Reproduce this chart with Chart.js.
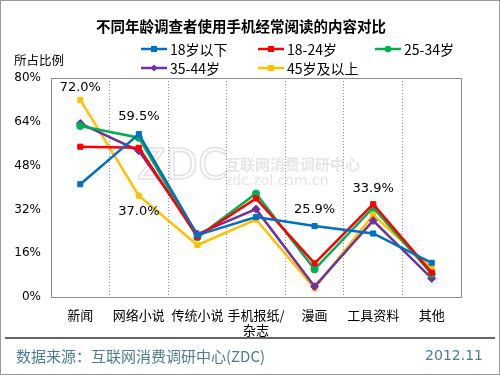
<!DOCTYPE html>
<html><head><meta charset="utf-8">
<script src="https://cdn.jsdelivr.net/npm/chart.js@4/dist/chart.umd.min.js"></script>
<style>
html,body{margin:0;padding:0;background:#fff;}
#wrap{position:relative;width:500px;height:375px;}
canvas{display:block;}
</style></head>
<body><div id="wrap"><canvas id="c" width="500" height="375"></canvas></div>
<script>
const chartTitle = '不同年龄调查者使用手机经常阅读的内容对比';
const yAxisTitle = '所占比例';
const sourceText = '数据来源：互联网消费调研中心(ZDC)';
const dateText = '2012.11';
const categories = ['新闻', '网络小说', '传统小说', ['手机报纸/', '杂志'], '漫画', '工具资料', '其他'];
const yTicks = [0, 16, 32, 48, 64, 80];
const seriesNames = ['18岁以下', '18-24岁', '25-34岁', '35-44岁', '45岁及以上'];
const under18 = [41.2, 59.5, 22.6, 29.2, 25.9, 23.2, 12.5];
const age18to24 = [54.9, 54.5, 22.0, 36.0, 12.3, 33.9, 8.9];
const age25to34 = [62.5, 58.2, 21.8, 37.8, 10.1, 32.6, 8.4];
const age35to44 = [63.4, 53.4, 23.0, 32.1, 3.8, 27.9, 6.8];
const age45plus = [72.0, 37.0, 19.0, 28.3, 3.2, 30.0, 10.5];
// data labels: [seriesIndex, categoryIndex, offset]
const labelPoints = [[4, 0, -12], [0, 1, -17], [4, 1, 16], [0, 4, -16], [1, 5, -16]];

const colors = ['#0070C0', '#FF0000', '#00B050', '#7030A0', '#FFC000'];
const pointStyles = ['rect', 'rect', 'circle', 'rectRot', 'rect'];
const allSeries = [under18, age18to24, age25to34, age35to44, age45plus];
const cjk = '"Noto Sans CJK SC", "Noto Sans", sans-serif';
const latin = '"DejaVu Sans", "Noto Sans CJK SC", sans-serif';

const datasets = allSeries.map((d, i) => ({
  label: seriesNames[i], data: d, borderColor: colors[i], backgroundColor: colors[i],
  borderWidth: 2.5, pointStyle: pointStyles[i], pointRadius: i === 3 ? 4 : 3.6,
  pointBorderWidth: 1, tension: 0
}));

const decor = {
  id: 'decor',
  beforeDraw(chart) {
    const ctx = chart.ctx;
    ctx.save();
    ctx.fillStyle = '#fff';
    ctx.fillRect(0, 0, 500, 375);
    // watermark
    ctx.strokeStyle = '#e2e2e2'; ctx.lineWidth = 1.5;
    ctx.font = '42px "DejaVu Sans", sans-serif';
    ctx.textBaseline = 'middle'; ctx.textAlign = 'left';
    ctx.strokeText('ZDC', 137, 168);
    ctx.fillStyle = '#e6e6e6';
    ctx.font = 'bold 15px ' + cjk;
    ctx.fillText('互联网消费调研中心', 225, 164);
    ctx.font = '14px "DejaVu Sans", sans-serif';
    ctx.fillText('zdc.zol.com.cn', 225, 181);
    ctx.restore();
  },
  afterDraw(chart) {
    const ctx = chart.ctx;
    const a = chart.chartArea;
    ctx.save();
    // plot border
    ctx.strokeStyle = '#8c8c8c'; ctx.lineWidth = 1;
    ctx.beginPath();
    ctx.moveTo(a.left + 0.5, a.top + 0.5); ctx.lineTo(a.right + 0.5, a.top + 0.5);
    ctx.lineTo(a.right + 0.5, a.bottom + 0.5); ctx.lineTo(a.left + 0.5, a.bottom + 0.5);
    ctx.closePath(); ctx.stroke();
    // outer border
    ctx.strokeStyle = '#9a9a9a';
    ctx.strokeRect(0.5, 0.5, 499, 374);
    // title
    ctx.fillStyle = '#000';
    ctx.font = 'bold 14.5px ' + cjk;
    ctx.textAlign = 'center'; ctx.textBaseline = 'middle';
    ctx.fillText(chartTitle, 241, 26);
    // y title
    ctx.font = '12.5px ' + cjk;
    ctx.textAlign = 'left';
    ctx.fillText(yAxisTitle, 14, 60);
    // legend
    const legPos = [[141, 49], [258, 49], [375, 49], [141, 68], [258, 68]];
    ctx.font = '14px ' + cjk;
    seriesNames.forEach((n, i) => {
      const [x, y] = legPos[i];
      ctx.strokeStyle = colors[i]; ctx.lineWidth = 2.5;
      ctx.beginPath(); ctx.moveTo(x, y); ctx.lineTo(x + 26, y); ctx.stroke();
      ctx.fillStyle = colors[i];
      const cx = x + 13;
      if (pointStyles[i] === 'circle') { ctx.beginPath(); ctx.arc(cx, y, 3.2, 0, Math.PI * 2); ctx.fill(); }
      else if (pointStyles[i] === 'rectRot') { ctx.beginPath(); ctx.moveTo(cx, y - 3.5); ctx.lineTo(cx + 3.5, y); ctx.lineTo(cx, y + 3.5); ctx.lineTo(cx - 3.5, y); ctx.closePath(); ctx.fill(); }
      else ctx.fillRect(cx - 3, y - 3, 6, 6);
      ctx.fillStyle = '#000';
      ctx.fillText(n, x + 29, y + 1);
    });
    // data labels
    ctx.font = '13px ' + latin;
    ctx.textAlign = 'center';
    labelPoints.forEach(([s, c, off]) => {
      const p = chart.getDatasetMeta(s).data[c];
      const v = allSeries[s][c].toFixed(1) + '%';
      ctx.fillStyle = '#000';
      ctx.fillText(v, p.x, p.y + off);
    });
    // footer
    ctx.strokeStyle = '#333'; ctx.lineWidth = 1.5;
    ctx.beginPath(); ctx.moveTo(5, 338); ctx.lineTo(495, 338); ctx.stroke();
    ctx.fillStyle = '#4d7d8c';
    ctx.font = '15px ' + cjk;
    ctx.textAlign = 'left';
    ctx.fillText(sourceText, 16, 356);
    ctx.textAlign = 'right';
    ctx.font = '14px ' + latin;
    ctx.fillText(dateText, 483, 356);
    ctx.restore();
  }
};

new Chart(document.getElementById('c'), {
  type: 'line',
  data: { labels: categories, datasets },
  options: {
    responsive: false, animation: false,
    layout: { padding: { left: 11, top: 78, right: 39, bottom: 33 } },
    plugins: { legend: { display: false }, tooltip: { enabled: false } },
    scales: {
      x: {
        offset: true,
        grid: { offset: true, color: '#8c8c8c', lineWidth: 1, drawTicks: false },
        border: { display: true, color: '#8c8c8c', dash: [1, 2] },
        ticks: { color: '#000', font: { family: cjk, size: 13 }, padding: 10, maxRotation: 0, autoSkip: false },
        afterFit(s) { s.height = 45; }
      },
      y: {
        min: 0, max: 80,
        afterBuildTicks(s) { s.ticks = yTicks.map(v => ({ value: v })); },
        grid: { display: false, drawTicks: false },
        border: { display: true, color: '#8c8c8c' },
        ticks: { color: '#000', font: { family: latin, size: 12 }, padding: 10, callback: v => v + '%' },
        afterFit(s) { s.width = 40; }
      }
    }
  },
  plugins: [decor]
});
</script></body></html>
